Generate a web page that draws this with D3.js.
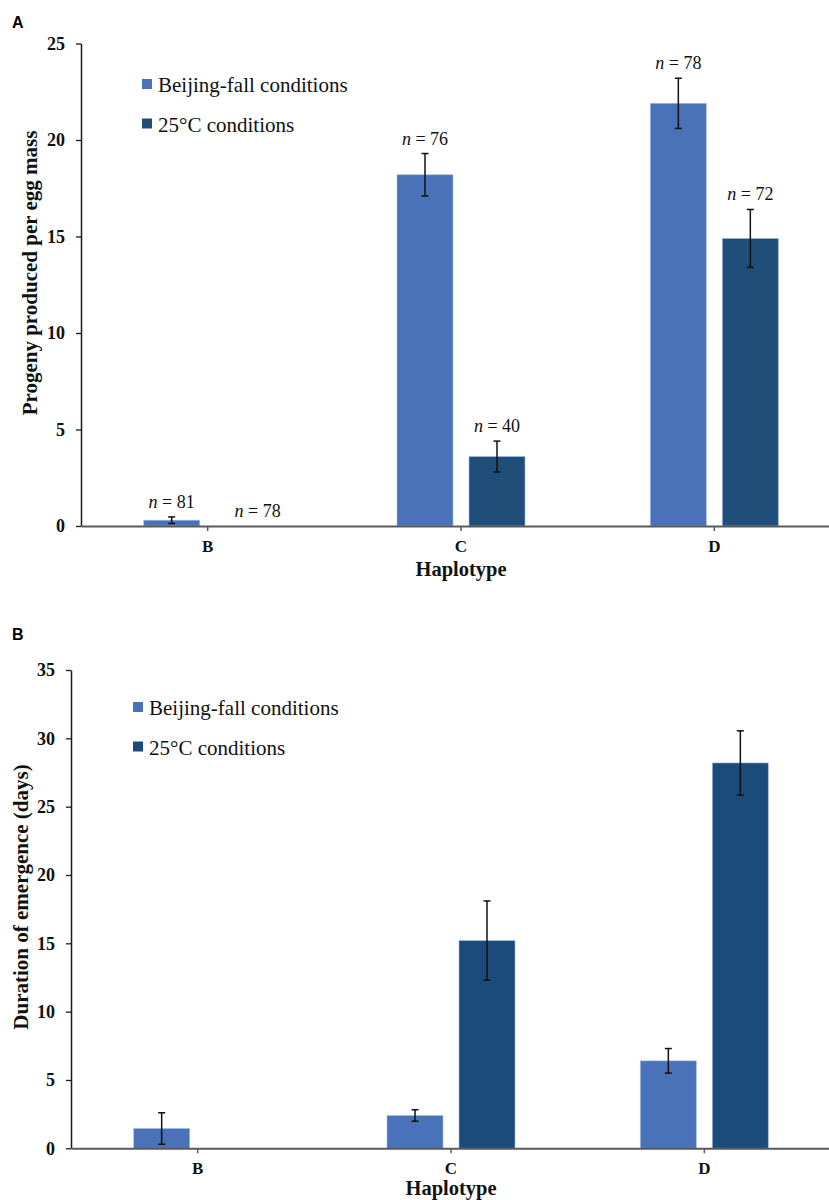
<!DOCTYPE html>
<html><head><meta charset="utf-8">
<script src="https://cdn.jsdelivr.net/npm/d3@7"></script>
<style>body{margin:0;background:#fff} svg{display:block}</style>
</head><body><svg id="chart" width="829" height="1200"></svg>
<script>
const categories = ["B", "C", "D"];
const seriesNames = ["Beijing-fall conditions", "25°C conditions"];

const progenyTicks = [0, 5, 10, 15, 20, 25];
const progenyBeijing = [0.3, 18.2, 21.9];
const progenyBeijingErr = [0.17, 1.1, 1.3];
const progeny25 = [0, 3.6, 14.9];
const progeny25Err = [0, 0.8, 1.5];
const progenyNBeijing = [81, 76, 78];
const progenyN25 = [78, 40, 72];

const durationTicks = [0, 5, 10, 15, 20, 25, 30, 35];
const durationBeijing = [1.45, 2.4, 6.4];
const durationBeijingErr = [1.15, 0.42, 0.9];
const duration25 = [0, 15.2, 28.2];
const duration25Err = [0, 2.9, 2.35];

const svg = d3.select("#chart");
const SERIF = "'Liberation Serif','Times New Roman',serif";

function drawPanel(o) {
  const g = svg.append("g");
  const y = d3.scaleLinear().domain([0, o.yMax]).range([o.y0, o.yTop]);
  const x0 = d3.scaleBand().domain(categories).range([o.left, o.left + 760]);
  const x1 = d3.scaleBand().domain(seriesNames).range([-64, 64]).paddingInner(16 / 72);

  g.append("text").attr("x", 12).attr("y", o.letterY)
    .attr("font-family", "'Liberation Sans',Arial,sans-serif").attr("font-weight", "bold")
    .attr("font-size", 16).text(o.letter);

  const rows = [];
  categories.forEach((c, i) => {
    o.series.forEach((s, j) => {
      rows.push({cat: c, ser: seriesNames[j], v: s.values[i], e: s.errs[i], n: s.ns ? s.ns[i] : null, color: s.color});
    });
  });
  const cx = d => x0(d.cat) + x0.bandwidth() / 2 + x1(d.ser);
  g.selectAll("rect.bar").data(rows.filter(d => d.v > 0)).join("rect")
    .attr("class", "bar")
    .attr("x", d => cx(d)).attr("width", x1.bandwidth())
    .attr("y", d => y(d.v)).attr("height", d => y(0) - y(d.v))
    .attr("fill", d => d.color).attr("stroke", "#a9bddf").attr("stroke-width", 0.8).attr("stroke-opacity", 0.7);

  const eb = rows.filter(d => d.e > 0);
  const mid = d => cx(d) + x1.bandwidth() / 2;
  g.selectAll("line.err").data(eb).join("line")
    .attr("x1", mid).attr("x2", mid)
    .attr("y1", d => y(d.v + d.e)).attr("y2", d => y(d.v - d.e))
    .attr("stroke", "#111").attr("stroke-width", 1.5);
  ["top", "bot"].forEach(k => {
    g.selectAll("line.cap" + k).data(eb).join("line")
      .attr("x1", d => mid(d) - 3.5).attr("x2", d => mid(d) + 3.5)
      .attr("y1", d => y(k === "top" ? d.v + d.e : d.v - d.e))
      .attr("y2", d => y(k === "top" ? d.v + d.e : d.v - d.e))
      .attr("stroke", "#111").attr("stroke-width", 1.5);
  });

  const nl = rows.filter(d => d.n != null);
  const t = g.selectAll("text.nlab").data(nl).join("text")
    .attr("x", d => mid(d) + (d.v === 0 ? 14 : 0)).attr("y", d => y(d.v + d.e) - 9)
    .attr("text-anchor", "middle").attr("font-family", SERIF).attr("font-size", 18).attr("fill", "#111");
  t.append("tspan").attr("font-style", "italic").text("n");
  t.append("tspan").text(d => " = " + d.n);

  const ya = g.append("g").attr("transform", `translate(${o.left},0)`)
    .call(d3.axisLeft(y).tickValues(o.ticks).tickSize(5).tickSizeOuter(0).tickPadding(11).tickFormat(d3.format("d")));
  ya.select(".domain").attr("stroke", "#1a1a1a").attr("stroke-width", 1.5);
  ya.selectAll(".tick line").attr("stroke", "#1a1a1a").attr("stroke-width", 1.3);
  ya.selectAll(".tick text").attr("font-family", SERIF).attr("font-weight", "bold").attr("font-size", 18).attr("fill", "#111");

  const xa = g.append("g").attr("transform", `translate(0,${o.y0})`)
    .call(d3.axisBottom(x0).tickSize(5).tickSizeOuter(0));
  xa.select(".domain").attr("stroke", "#5a5a5a").attr("stroke-width", 2);
  xa.selectAll(".tick line").attr("stroke", "#5a5a5a").attr("stroke-width", 1.5);
  xa.selectAll(".tick text").attr("y", o.tickLabelY - o.y0).attr("dy", null)
    .attr("font-family", SERIF).attr("font-weight", "bold").attr("font-size", 17).attr("fill", "#111");

  g.append("text").attr("x", x0("C") + x0.bandwidth() / 2).attr("y", o.xTitleY)
    .attr("text-anchor", "middle").attr("font-family", SERIF).attr("font-weight", "bold")
    .attr("font-size", 20.5).attr("fill", "#111").text("Haplotype");

  g.append("text").attr("transform", `translate(${o.titleX},${o.titleY}) rotate(-90)`)
    .attr("text-anchor", "middle").attr("font-family", SERIF).attr("font-weight", "bold")
    .attr("font-size", 21).attr("fill", "#111").text(o.title);

  o.series.forEach((s, j) => {
    const by = o.legendY + j * 39.5;
    g.append("rect").attr("x", o.legendX).attr("y", by - 13).attr("width", 10).attr("height", 10).attr("fill", s.color);
    g.append("text").attr("x", o.legendX + 16).attr("y", by).attr("font-family", SERIF)
      .attr("font-size", 21).attr("fill", "#111").text(seriesNames[j]);
  });
}

drawPanel({
  letter: "A", letterY: 28,
  left: 81, y0: 526, yTop: 43.5, yMax: 25, ticks: progenyTicks,
  tickLabelY: 552, xTitleY: 576,
  title: "Progeny produced per egg mass", titleX: 37, titleY: 273,
  legendX: 142, legendY: 92,
  series: [
    {values: progenyBeijing, errs: progenyBeijingErr, ns: progenyNBeijing, color: "#4a72b8"},
    {values: progeny25, errs: progeny25Err, ns: progenyN25, color: "#1f4e79"}
  ]
});

drawPanel({
  letter: "B", letterY: 640,
  left: 71, y0: 1148.3, yTop: 670, yMax: 35, ticks: durationTicks,
  tickLabelY: 1174, xTitleY: 1195,
  title: "Duration of emergence (days)", titleX: 28, titleY: 897,
  legendX: 133, legendY: 715,
  series: [
    {values: durationBeijing, errs: durationBeijingErr, color: "#4a72b8"},
    {values: duration25, errs: duration25Err, color: "#1b4b7b"}
  ]
});
</script></body></html>
